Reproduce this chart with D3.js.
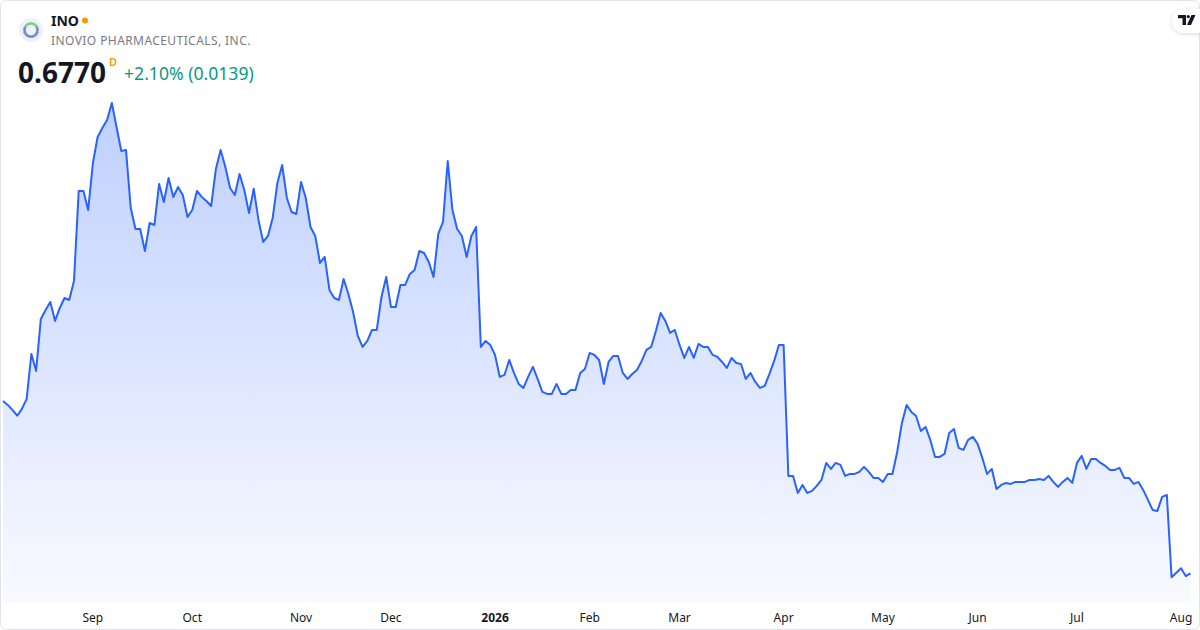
<!DOCTYPE html>
<html>
<head>
<meta charset="utf-8">
<script src="https://cdn.jsdelivr.net/npm/d3@7"></script>
<style>
  html, body { margin: 0; padding: 0; background: #ffffff; }
  svg { display: block; font-family: "Noto Sans", "Open Sans", sans-serif; }
</style>
</head>
<body>
<svg id="chart" width="1200" height="630"></svg>
<script>
// ---- data ----
const symbol = "INO";
const companyName = "INOVIO PHARMACEUTICALS, INC.";
const lastPrice = "0.6770";
const changeText = "+2.10% (0.0139)";
const startDate = "2025-08-05";
const endDate = "2026-08-05";
const holidays = ["2025-09-01","2025-11-27","2025-12-25","2026-01-01","2026-01-19",
                  "2026-02-16","2026-04-03","2026-05-25","2026-06-19","2026-07-03"];
const monthLabels = ["Jan","Feb","Mar","Apr","May","Jun","Jul","Aug","Sep","Oct","Nov","Dec"];
const closes = [
  1.539,1.519,1.494,1.465,1.499,1.549,1.774,1.689,1.949,1.994,
  2.034,1.939,2.004,2.054,2.044,2.139,2.589,2.589,2.494,2.729,
  2.859,2.904,2.944,3.029,2.909,2.789,2.794,2.504,2.399,2.399,
  2.289,2.429,2.419,2.624,2.534,2.654,2.559,2.609,2.569,2.459,
  2.494,2.589,2.559,2.539,2.514,2.699,2.794,2.709,2.604,2.569,
  2.674,2.594,2.479,2.600,2.444,2.334,2.364,2.454,2.629,2.719,
  2.554,2.484,2.474,2.634,2.554,2.409,2.364,2.229,2.259,2.094,
  2.054,2.044,2.149,2.074,1.984,1.864,1.809,1.839,1.894,1.894,
  2.059,2.159,2.009,2.009,2.119,2.119,2.174,2.194,2.289,2.279,
  2.234,2.159,2.374,2.434,2.739,2.494,2.399,2.364,2.259,2.364,
  2.409,1.809,1.839,1.819,1.769,1.659,1.669,1.744,1.679,1.624,
  1.604,1.659,1.709,1.649,1.584,1.574,1.574,1.624,1.574,1.574,
  1.594,1.594,1.679,1.699,1.779,1.769,1.744,1.624,1.734,1.764,
  1.764,1.679,1.649,1.674,1.694,1.739,1.794,1.809,1.889,1.979,
  1.939,1.879,1.894,1.819,1.754,1.809,1.754,1.824,1.809,1.809,
  1.769,1.759,1.734,1.704,1.754,1.729,1.724,1.649,1.679,1.634,
  1.604,1.614,1.674,1.739,1.819,1.819,1.164,1.164,1.079,1.119,
  1.079,1.089,1.114,1.144,1.229,1.199,1.229,1.219,1.164,1.174,
  1.174,1.184,1.209,1.184,1.154,1.154,1.134,1.174,1.174,1.284,
  1.429,1.519,1.484,1.464,1.389,1.409,1.344,1.259,1.259,1.274,
  1.379,1.399,1.304,1.294,1.344,1.359,1.324,1.254,1.174,1.199,
  1.099,1.119,1.129,1.124,1.134,1.134,1.134,1.144,1.144,1.149,
  1.144,1.164,1.134,1.109,1.134,1.154,1.129,1.229,1.264,1.199,
  1.249,1.249,1.229,1.214,1.194,1.194,1.204,1.154,1.154,1.124,
  1.134,1.094,1.044,0.994,0.989,1.059,1.069,0.657,0.680,0.702,
  0.6631,0.6770
];

// ---- trading calendar (category axis) ----
const fmt = d3.utcFormat("%Y-%m-%d");
const holidaySet = new Set(holidays);
const dates = d3.utcDays(new Date(startDate + "T00:00:00Z"), d3.utcDay.offset(new Date(endDate + "T00:00:00Z"), 1))
  .filter(d => d.getUTCDay() !== 0 && d.getUTCDay() !== 6 && !holidaySet.has(fmt(d)));
const data = closes.map((v, i) => ({ i, date: dates[i], v }));

// month ticks: first trading day of each month (skip first partial month)
const ticks = [];
data.forEach((d, i) => {
  if (i > 0 && d.date.getUTCMonth() !== data[i - 1].date.getUTCMonth()) {
    const m = d.date.getUTCMonth();
    ticks.push({ i, label: m === 0 ? String(d.date.getUTCFullYear()) : monthLabels[m], bold: m === 0 });
  }
});

// ---- layout ----
const svg = d3.select("#chart");
const W = 1200, H = 630;

const x = d3.scaleLinear().domain([0, data.length - 1]).range([3, 1190.5]);
const y = d3.scaleLinear().domain(d3.extent(closes)).range([577.3, 103]);
const baseY = 603;

// frame
svg.append("rect").attr("x", 0.5).attr("y", 0.5).attr("width", W - 1).attr("height", H - 1)
  .attr("rx", 6).attr("fill", "#ffffff").attr("stroke", "#e0e3eb");

const defs = svg.append("defs");
const grad = defs.append("linearGradient").attr("id", "areaGrad")
  .attr("gradientUnits", "userSpaceOnUse").attr("x1", 0).attr("x2", 0).attr("y1", 103).attr("y2", baseY);
grad.append("stop").attr("offset", "0%").attr("stop-color", "#2962ff").attr("stop-opacity", 0.3);
grad.append("stop").attr("offset", "100%").attr("stop-color", "#2962ff").attr("stop-opacity", 0.03);

const area = d3.area().x(d => x(d.i)).y0(baseY).y1(d => y(d.v));
const line = d3.line().x(d => x(d.i)).y(d => y(d.v));

svg.append("path").datum(data).attr("d", area).attr("fill", "url(#areaGrad)");
svg.append("path").datum(data).attr("d", line).attr("fill", "none")
  .attr("stroke", "#2962ff").attr("stroke-width", 2).attr("stroke-linejoin", "round");

// x axis labels
const axisG = svg.append("g");
axisG.selectAll("text").data(ticks).join("text")
  .attr("x", d => x(d.i)).attr("y", 622)
  .attr("text-anchor", "middle")
  .attr("font-size", 12)
  .attr("font-weight", d => d.bold ? 700 : 400)
  .attr("fill", "#131722")
  .text(d => d.label);

// ---- header ----
const logo = svg.append("g").attr("transform", "translate(31,30)");
logo.append("circle").attr("r", 12).attr("fill", "#eef1f9");
const ringN = 18;
logo.selectAll("circle.dot").data(d3.range(ringN)).join("circle")
  .attr("class", "dot")
  .attr("cx", k => 6.5 * Math.cos(k / ringN * 2 * Math.PI))
  .attr("cy", k => 6.5 * Math.sin(k / ringN * 2 * Math.PI))
  .attr("r", 1.5)
  .attr("fill", k => (k > 10 && k < 17) ? "#7ccf7a" : "#6f8fca");

svg.append("text").attr("x", 51).attr("y", 26).attr("font-size", 14).attr("font-weight", 700)
  .attr("fill", "#131722").text(symbol);
svg.append("circle").attr("cx", 85).attr("cy", 20.5).attr("r", 3).attr("fill", "#ff9800");
svg.append("text").attr("x", 51).attr("y", 45).attr("font-size", 12).attr("fill", "#787b86")
  .attr("letter-spacing", 0.42).text(companyName);

svg.append("text").attr("x", 18).attr("y", 83).attr("font-size", 28).attr("font-weight", 700)
  .attr("fill", "#131722").text(lastPrice);
svg.append("text").attr("x", 109).attr("y", 66).attr("font-size", 11).attr("font-weight", 600)
  .attr("fill", "#ff9800").text("D");
svg.append("text").attr("x", 124).attr("y", 80).attr("font-size", 17.6)
  .attr("fill", "#089981").text(changeText);

// TradingView badge
const badge = svg.append("g");
defs.append("filter").attr("id", "shadow").attr("x", "-50%").attr("y", "-50%").attr("width", "200%").attr("height", "200%")
  .append("feDropShadow").attr("dx", 0).attr("dy", 1).attr("stdDeviation", 2).attr("flood-color", "#000").attr("flood-opacity", 0.15);
badge.append("rect").attr("x", 1172).attr("y", 9).attr("width", 40).attr("height", 24).attr("rx", 12)
  .attr("fill", "#ffffff").attr("filter", "url(#shadow)");
const tv = badge.append("g").attr("transform", "translate(1178,15)").attr("fill", "#131722");
tv.append("path").attr("d", "M0 0 H8 V10 H4.5 V3.2 H0 Z");
tv.append("circle").attr("cx", 10.3).attr("cy", 1.6).attr("r", 1.6);
tv.append("path").attr("d", "M13.5 0 H17.5 L13 10 H9 Z");
</script>
</body>
</html>
